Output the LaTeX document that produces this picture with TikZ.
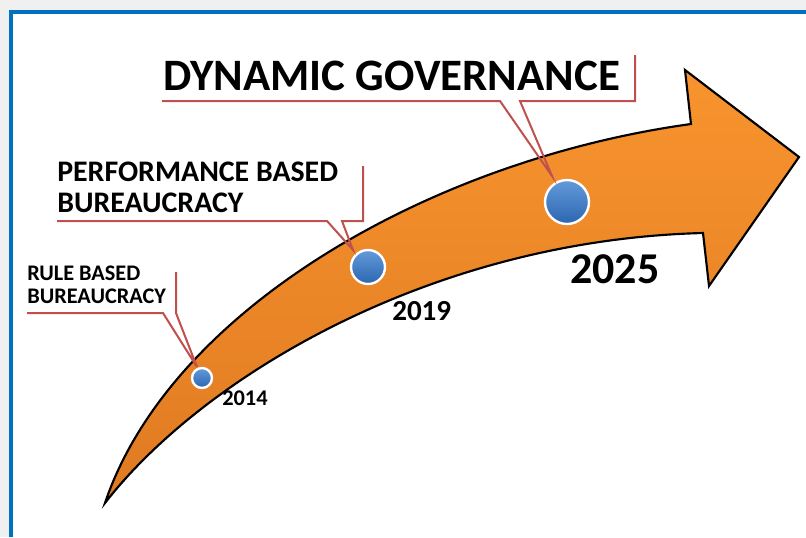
\documentclass[tikz,border=0pt]{standalone}
\usepackage{fontspec}
\setmainfont{Carlito}
\usepackage{xcolor}

\definecolor{frameblue}{RGB}{0,112,192}
\definecolor{pagegray}{RGB}{240,240,240}
\definecolor{calloutred}{RGB}{192,80,77}
\definecolor{arrowlight}{RGB}{248,148,46}
\definecolor{arrowdark}{RGB}{224,122,34}
\definecolor{dotlight}{RGB}{98,154,218}
\definecolor{dotdark}{RGB}{44,102,176}

\tikzset{
  callout/.style={draw=calloutred, line width=1.5pt, line join=miter},
  milestone/.style={circle, draw=white, line width=1.8pt, inner sep=0pt,
    top color=dotlight, bottom color=dotdark},
  stagetext/.style={inner sep=0pt, anchor=base west, align=left, font=\bfseries},
  yeartext/.style={inner sep=0pt, anchor=base west, font=\bfseries}
}

\begin{document}
\begin{tikzpicture}[x=0.75pt, y=-0.75pt]
\useasboundingbox (0,0) rectangle (806,537);
% page and frame
\fill[pagegray] (0,0) rectangle (806,537);
\fill[white] (11,12) rectangle (806,537);
\draw[frameblue, line width=3pt] (11,537) -- (11,12) -- (806,12);

% the curved arrow
\draw[line width=1.6pt, line join=miter, top color=arrowlight, bottom color=arrowdark]
  (105,503) .. controls (170,310) and (430,160) .. (691,124)
  -- (685,70) -- (799,157) -- (709,286) -- (703,233)
  .. controls (430,240) and (202,378) .. cycle;

% milestones
\node[milestone, minimum size=15pt] (d2014) at (202,378) {};
\node[milestone, minimum size=25.5pt] (d2019) at (368,267) {};
\node[milestone, minimum size=33pt] (d2025) at (567,202) {};

\node[yeartext, font=\bfseries\fontsize{16.8}{19}\selectfont] (y2014) at (222,405) {2014};
\node[yeartext, font=\bfseries\fontsize{21.8}{25}\selectfont] (y2019) at (392,320) {2019};
\node[yeartext, font=\bfseries\fontsize{33}{36}\selectfont] (y2025) at (570,283) {2025};

% callouts
\coordinate (ruletip) at (197,367);
\coordinate (perftip) at (353,250);
\coordinate (govtip) at (552,176);

\draw[callout] (27,313) -- (163,313) -- (ruletip) -- (176,313) -- (176,272);
\draw[callout] (57,221) -- (327,221) -- (perftip) -- (342,221) -- (363,221) -- (363,166);
\draw[callout] (162,101) -- (500,101) -- (govtip) -- (520,101) -- (635,101) -- (635,55);

\node[stagetext, font=\bfseries\fontsize{16.7}{17.25}\selectfont] (rule) at (27,303)
  {RULE BASED\\BUREAUCRACY};
\node[stagetext, font=\bfseries\fontsize{22.4}{23.25}\selectfont] (perf) at (57,212)
  {PERFORMANCE BASED\\BUREAUCRACY};
\node[stagetext, font=\bfseries\fontsize{33.7}{36}\selectfont] (gov) at (163,90)
  {DYNAMIC GOVERNANCE};
\end{tikzpicture}
\end{document}
